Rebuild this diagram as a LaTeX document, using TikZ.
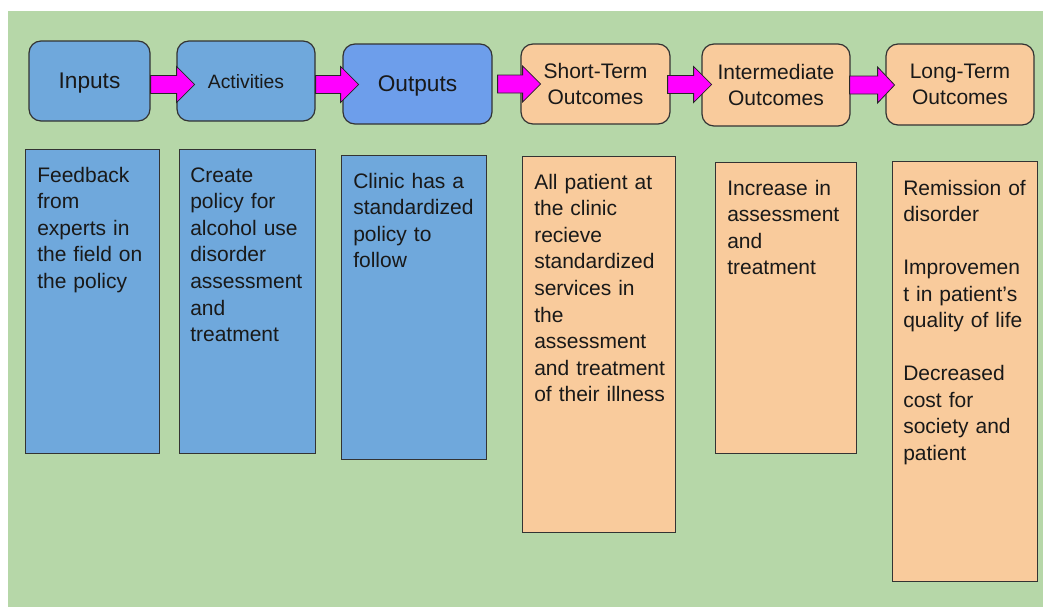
\documentclass[tikz,border=0pt]{standalone}
\usepackage{fontspec}
\setmainfont{Liberation Sans}
\usepackage{tikz}
\usetikzlibrary{positioning}
\usepackage{xcolor}
\definecolor{bggreen}{HTML}{B6D7A8}
\definecolor{boxblue}{HTML}{6FA8DC}
\definecolor{outblue}{HTML}{6D9EEB}
\definecolor{boxorange}{HTML}{F9CB9C}
\definecolor{arrowpink}{HTML}{FF00FF}
\tikzstyle{stage}=[draw=black!80, line width=0.9pt, rounded corners=9pt, inner sep=0pt, align=center, text=black!90, font=\fontsize{15.75}{20}\selectfont]
\tikzstyle{single stage}=[stage, text depth=0pt]
\tikzstyle{detail}=[draw=black!80, line width=0.9pt, inner sep=0pt, anchor=north west]
\tikzstyle{detail text}=[anchor=base west, inner sep=0pt, text width=105pt, align=left, text=black!90, font=\fontsize{15.75}{19.9}\selectfont]
\tikzstyle{flow}=[draw=black!85, line width=0.6pt, fill=arrowpink, line join=miter]

\begin{document}
\begin{tikzpicture}[x=0.75pt, y=-0.75pt]
        \useasboundingbox (0,0) rectangle (1043,607);
        % Sfondo
        \fill[white] (0,0) rectangle (1043,607);
        \fill[bggreen] (8,11) rectangle (1043,607);

        % Fasi del modello
        \node[single stage, fill=boxblue, minimum width=90.75pt, minimum height=60pt, font=\fontsize{17}{20}\selectfont] (inputs) at (89.5,81) {Inputs};
        \node[single stage, fill=boxblue, minimum width=103.5pt, minimum height=60pt, font=\fontsize{14.5}{18}\selectfont] (activities) at (246,81) {Activities};
        \node[single stage, fill=outblue, minimum width=111.75pt, minimum height=60pt, font=\fontsize{17}{20}\selectfont] (outputs) at (417.5,84) {Outputs};
        \node[stage, fill=boxorange, minimum width=111.75pt, minimum height=60pt] (short_term) at (595.5,84) {Short-Term\\Outcomes};
        \node[stage, fill=boxorange, minimum width=111pt, minimum height=61.5pt] (intermediate) at (776,85) {Intermediate\\Outcomes};
        \node[stage, fill=boxorange, minimum width=111pt, minimum height=60.75pt] (long_term) at (960,84.5) {Long-Term\\Outcomes};

        % Frecce tra le fasi
        \draw[flow] ([yshift=-2.6pt]inputs.east) ++(0,-9) -- ++(26,0) -- ++(0,-9) -- ++(18,18) -- ++(-18,18) -- ++(0,-9) -- ++(-26,0) -- cycle;
        \draw[flow] ([yshift=-2.6pt]activities.east) ++(0,-9) -- ++(25,0) -- ++(0,-9) -- ++(18,18) -- ++(-18,18) -- ++(0,-9) -- ++(-25,0) -- cycle;
        \draw[flow] ([xshift=3.75pt]outputs.east) ++(0,-9) -- ++(25,0) -- ++(0,-9) -- ++(18,18) -- ++(-18,18) -- ++(0,-9) -- ++(-25,0) -- cycle;
        \draw[flow] ([xshift=-2.25pt, yshift=-0.4pt]short_term.east) ++(0,-9) -- ++(26,0) -- ++(0,-9) -- ++(18,18) -- ++(-18,18) -- ++(0,-9) -- ++(-26,0) -- cycle;
        \draw[flow] ([xshift=-0.75pt]intermediate.east) ++(0,-9) -- ++(28,0) -- ++(0,-9) -- ++(17,18) -- ++(-17,18) -- ++(0,-9) -- ++(-28,0) -- cycle;

        % Dettagli sotto ogni fase
        \node[detail, fill=boxblue, minimum width=100.5pt, minimum height=228pt] (inputs_det) at (25,149) {};
        \node[detail text] (inputs_txt) at ([xshift=9pt, yshift=-25pt]inputs_det.north west) {Feedback\\from\\experts in\\the field on\\the policy};

        \node[detail, fill=boxblue, minimum width=102pt, minimum height=228pt] (activities_det) at (179,149) {};
        \node[detail text] (activities_txt) at ([xshift=8.25pt, yshift=-25pt]activities_det.north west) {Create\\policy for\\alcohol use\\disorder\\assessment\\and\\treatment};

        \node[detail, fill=boxblue, minimum width=108.75pt, minimum height=228pt] (outputs_det) at (341,155) {};
        \node[detail text] (outputs_txt) at ([xshift=9pt, yshift=-25pt]outputs_det.north west) {Clinic has a\\standardized\\policy to\\follow};

        \node[detail, fill=boxorange, minimum width=114.75pt, minimum height=282pt] (short_term_det) at (522,156) {};
        \node[detail text] (short_term_txt) at ([xshift=9pt, yshift=-25pt]short_term_det.north west) {All patient at\\the clinic\\recieve\\standardized\\services in\\the\\assessment\\and treatment\\of their illness};

        \node[detail, fill=boxorange, minimum width=105.75pt, minimum height=218.25pt] (intermediate_det) at (715,162) {};
        \node[detail text] (intermediate_txt) at ([xshift=9pt, yshift=-25pt]intermediate_det.north west) {Increase in\\assessment\\and\\treatment};

        \node[detail, fill=boxorange, minimum width=108.75pt, minimum height=315pt] (long_term_det) at (892,161) {};
        \node[detail text] (long_term_txt) at ([xshift=8.25pt, yshift=-25.5pt]long_term_det.north west) {Remission of\\disorder\\[19.9pt]Improvemen\\t in patient’s\\quality of life\\[19.9pt]Decreased\\cost for\\society and\\patient};
    \end{tikzpicture}
\end{document}
